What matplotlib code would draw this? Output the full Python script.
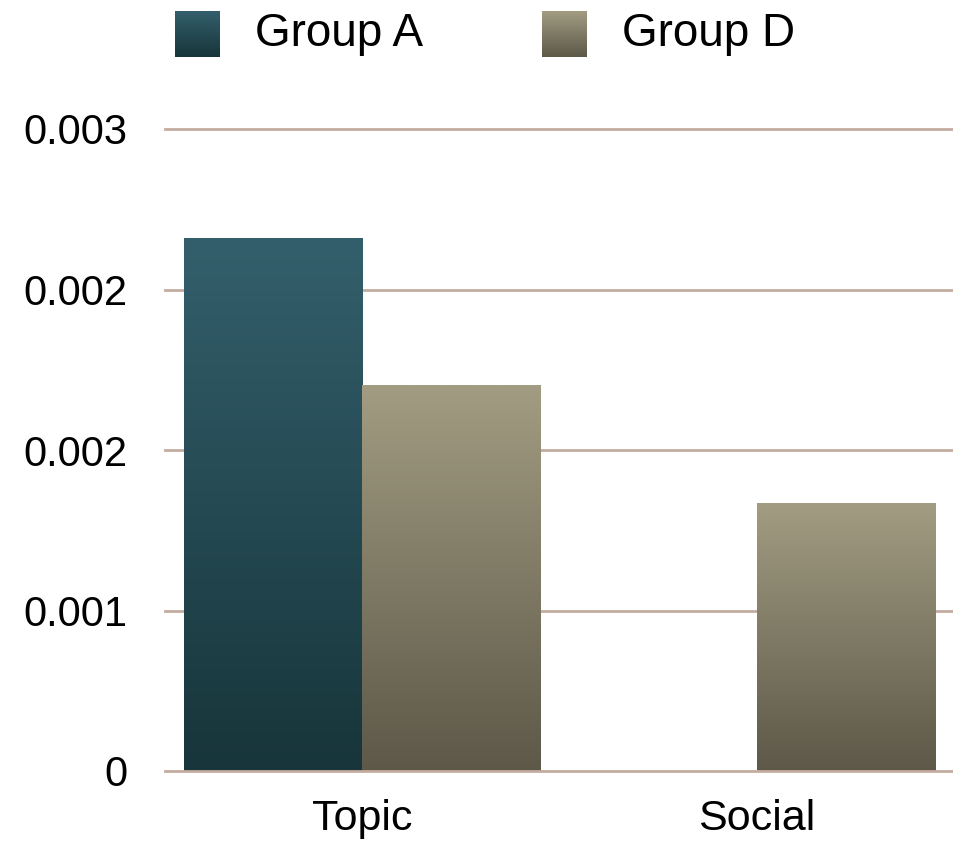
import numpy as np
import matplotlib
matplotlib.use("Agg")
import matplotlib.pyplot as plt
from matplotlib.colors import LinearSegmentedColormap

categories = ["Topic", "Social"]
series_names = ["Group A", "Group D"]
group_a = [0.00249, 0.0]
group_d = [0.00180, 0.00125]
y_ticks = [0.0, 0.00075, 0.0015, 0.00225, 0.003]
y_tick_labels = ["0", "0.001", "0.002", "0.002", "0.003"]

# top -> bottom gradient colours for each series
gradients = {
    "Group A": ("#335f6c", "#17353a"),
    "Group D": ("#a29c82", "#5d5848"),
}
grid_color = "#c4ada0"
font = "Liberation Sans"

W, H = 954, 843
fig = plt.figure(figsize=(W / 100, H / 100), dpi=100)
ax = fig.add_axes([165 / W, (H - 771) / H, (954 - 165) / W, (771 - 129) / H])

x = np.arange(len(categories))
width = 0.452
offsets = [-width / 2, width / 2]
grad = np.linspace(0, 1, 256).reshape(-1, 1)


def gradient_cmap(name):
    top, bottom = gradients[name]
    return LinearSegmentedColormap.from_list(name, [bottom, top])


for name, vals, off in zip(series_names, [group_a, group_d], offsets):
    bars = ax.bar(x + off, vals, width, color="none", edgecolor="none", zorder=3)
    cmap = gradient_cmap(name)
    for b in bars:
        h = b.get_height()
        if h <= 0:
            continue
        x0 = b.get_x()
        ax.imshow(grad, cmap=cmap, origin="lower", aspect="auto",
                  extent=[x0, x0 + b.get_width(), 0, h], zorder=3,
                  interpolation="bilinear")

for yv in y_ticks:
    ax.axhline(yv, color=grid_color, lw=2, zorder=1 if yv > 0 else 4, clip_on=False)

ax.set_xlim(-0.5, 1.5)
ax.set_ylim(0, 0.003)
ax.set_yticks(y_ticks)
ax.set_yticklabels(y_tick_labels)
ax.set_xticks(x)
ax.set_xticklabels(categories)
ax.tick_params(axis="both", length=0, labelsize=30)
ax.tick_params(axis="x", labelsize=31, pad=20)
ax.tick_params(axis="y", pad=27)
for lab in ax.get_xticklabels() + ax.get_yticklabels():
    lab.set_fontfamily(font)
for s in ax.spines.values():
    s.set_visible(False)

# legend: gradient swatches with labels
legend_items = [(175, 255), (542, 622)]
for name, (sx, tx) in zip(series_names, legend_items):
    lax = fig.add_axes([sx / W, (H - 57) / H, 45 / W, 46 / H])
    lax.imshow(grad, cmap=gradient_cmap(name), origin="lower", aspect="auto")
    lax.axis("off")
    fig.text(tx / W, (H - 34) / H, name, fontsize=33, family=font,
             ha="left", va="center")

fig.savefig("out.png", dpi=100, facecolor="white")
